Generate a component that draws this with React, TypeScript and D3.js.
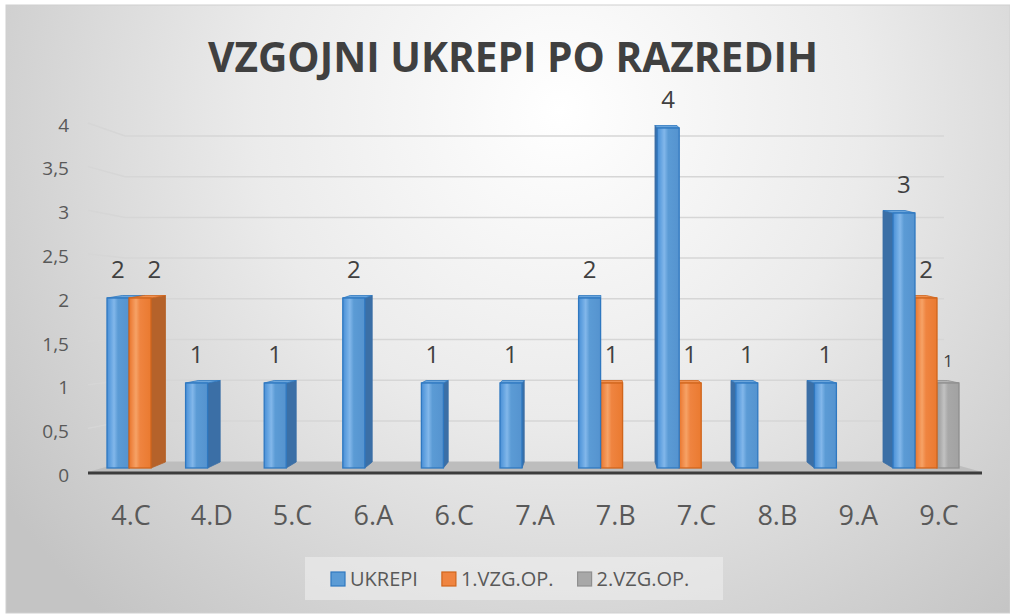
import React, { useEffect, useRef } from "react";
import * as d3 from "d3";

const categories = ["4.C", "4.D", "5.C", "6.A", "6.C", "7.A", "7.B", "7.C", "8.B", "9.A", "9.C"];
const seriesNames = ["UKREPI", "1.VZG.OP.", "2.VZG.OP."];
const ukrepi = [2, 1, 1, 2, 1, 1, 2, 4, 1, 1, 3];
const vzg1 = [2, null, null, null, null, null, 1, 1, null, null, 2];
const vzg2 = [null, null, null, null, null, null, null, null, null, null, 1];
const yTicks = [0, 0.5, 1, 1.5, 2, 2.5, 3, 3.5, 4];
const title = "VZGOJNI UKREPI PO RAZREDIH";

const palette = [
  { id: "blue", stops: ["#4a8fd6", "#62a2e0", "#82b7ea", "#5b9bd5", "#5593cf"], stroke: "#2f78c0", side: "#3b6fa6", top: "#6aa5dc" },
  { id: "orange", stops: ["#e8742a", "#f08a48", "#f6a266", "#ef8440", "#ea7a30"], stroke: "#d0651c", side: "#b5622a", top: "#f09050" },
  { id: "gray", stops: ["#9c9c9c", "#ababab", "#c2c2c2", "#a8a8a8", "#a2a2a2"], stroke: "#8f8f8f", side: "#878787", top: "#b3b3b3" },
];

const FONT = "'Open Sans', sans-serif";

export default function App() {
  const svgRef = useRef<SVGSVGElement>(null);

  useEffect(() => {
    const svg = d3.select(svgRef.current);
    svg.selectAll("*").remove();

    const W = 1010;
    const H = 615;
    svg.attr("width", W).attr("height", H);

    const defs = svg.append("defs");
    const bg = defs
      .append("radialGradient")
      .attr("id", "bg")
      .attr("gradientUnits", "userSpaceOnUse")
      .attr("cx", 560)
      .attr("cy", 110)
      .attr("r", 680);
    bg.append("stop").attr("offset", 0).attr("stop-color", "#ffffff");
    bg.append("stop").attr("offset", 0.45).attr("stop-color", "#ebebeb");
    bg.append("stop").attr("offset", 1).attr("stop-color", "#c4c4c4");

    palette.forEach((p) => {
      const g = defs
        .append("linearGradient")
        .attr("id", `front-${p.id}`)
        .attr("x1", 0)
        .attr("x2", 1)
        .attr("y1", 0)
        .attr("y2", 0);
      [0, 0.15, 0.32, 0.5, 1].forEach((o, i) =>
        g.append("stop").attr("offset", o).attr("stop-color", p.stops[i])
      );
    });

    svg.append("rect").attr("width", W).attr("height", H).attr("fill", "#ffffff");
    svg
      .append("rect")
      .attr("x", 6)
      .attr("y", 5)
      .attr("width", W - 6)
      .attr("height", 608)
      .attr("fill", "url(#bg)")
      .attr("stroke", "#d0d0d0");

    // scales
    const xBar = d3
      .scaleBand()
      .domain(categories)
      .range([100.7, 965.3])
      .paddingInner(0.16)
      .paddingOuter(0.08);
    const xSub = d3.scaleBand().domain(seriesNames).range([0, xBar.bandwidth()]);
    const xLabel = d3.scaleBand().domain(categories).range([90.6, 979.4]);

    const yFront = d3.scaleLinear().domain([0, 4]).range([468, 128]);
    const yBack = d3.scaleLinear().domain([0, 4]).range([461.6, 136]);
    const yLeft = d3.scaleLinear().domain([0, 4]).range([472, 123]);
    const yLabel = d3.scaleLinear().domain([0, 4]).range([475.5, 125]);

    const wallLeft = 88;
    const backLeft = 125;
    const backRight = 944;
    const floorRight = 982;

    // title
    svg
      .append("text")
      .attr("x", 513)
      .attr("y", 72)
      .attr("text-anchor", "middle")
      .attr("font-family", FONT)
      .attr("font-weight", 700)
      .attr("font-size", 42)
      .attr("fill", "#404040")
      .attr("textLength", 610)
      .attr("lengthAdjust", "spacingAndGlyphs")
      .text(title);

    // gridlines: back wall + left wall
    const grid = svg.append("g").attr("stroke", "#d6d6d6").attr("stroke-width", 1.5).attr("fill", "none");
    yTicks
      .filter((t) => t > 0)
      .forEach((t) => {
        grid
          .append("path")
          .attr("d", `M${wallLeft},${yLeft(t)}L${backLeft},${yBack(t)}L${backRight},${yBack(t)}`);
      });

    // floor
    svg
      .append("path")
      .attr(
        "d",
        `M${backLeft},${yBack(0)}L${backRight},${yBack(0)}L${floorRight},${yLeft(0)}L${wallLeft},${yLeft(0)}Z`
      )
      .attr("fill", "#bdbdbd");
    svg
      .append("line")
      .attr("x1", wallLeft)
      .attr("x2", floorRight)
      .attr("y1", yLeft(0) + 1)
      .attr("y2", yLeft(0) + 1)
      .attr("stroke", "#3c3c3c")
      .attr("stroke-width", 3);

    // y axis labels
    const yAxis = svg
      .append("g")
      .attr("transform", "translate(69,0)")
      .call(
        d3
          .axisLeft(yLabel)
          .tickValues(yTicks)
          .tickSize(0)
          .tickPadding(0)
          .tickFormat((d) => String(d).replace(".", ","))
      );
    yAxis.select(".domain").remove();
    yAxis
      .selectAll("text")
      .attr("font-family", FONT)
      .attr("font-size", 19)
      .attr("fill", "#595959");

    // x axis labels
    const xAxis = svg
      .append("g")
      .attr("transform", "translate(0,525)")
      .call(d3.axisBottom(xLabel).tickSize(0).tickPadding(0));
    xAxis.select(".domain").remove();
    xAxis
      .selectAll("text")
      .attr("y", 0)
      .attr("dy", null)
      .attr("font-family", FONT)
      .attr("font-size", 27)
      .attr("fill", "#595959");

    // bars
    const seriesValues = [ukrepi, vzg1, vzg2];
    const vp = 590;
    const k = 0.033;
    const dyTop = -2.5;
    const dyBase = -6;
    const barsG = svg.append("g");
    const labelsG = svg.append("g");

    categories.forEach((cat, ci) => {
      const gx = xBar(cat)!;
      const groupCenter = gx + xBar.bandwidth() / 2;
      const rightSide = groupCenter < vp;
      const order = rightSide ? [0, 1, 2] : [2, 1, 0];
      order.forEach((si) => {
        const v = seriesValues[si][ci];
        if (v == null) return;
        const p = palette[si];
        const x = gx + xSub(seriesNames[si])!;
        const w = xSub.bandwidth();
        const yT = yFront(v);
        const yB = yFront(0);
        const edge = rightSide ? x + w : x;
        const dx = k * (vp - edge);
        const sx = edge + dx;
        barsG
          .append("path")
          .attr("d", `M${edge},${yT}L${sx},${yT + dyTop}L${sx},${yB + dyBase}L${edge},${yB}Z`)
          .attr("fill", p.side)
          .attr("stroke", p.side)
          .attr("stroke-width", 0.8);
        barsG
          .append("path")
          .attr("d", `M${x},${yT}L${x + w},${yT}L${x + w + dx},${yT + dyTop}L${x + dx},${yT + dyTop}Z`)
          .attr("fill", p.top)
          .attr("stroke", p.stroke)
          .attr("stroke-width", 0.8);
        barsG
          .append("rect")
          .attr("x", x)
          .attr("y", yT)
          .attr("width", w)
          .attr("height", yB - yT)
          .attr("fill", `url(#front-${p.id})`)
          .attr("stroke", p.stroke)
          .attr("stroke-width", 1.3);

        const small = si === 2;
        labelsG
          .append("text")
          .attr("x", x + w / 2 + (si === 1 && rightSide ? dx : 0))
          .attr("y", yT - (small ? 16 : 20))
          .attr("text-anchor", "middle")
          .attr("font-family", FONT)
          .attr("font-size", small ? 17 : 24)
          .attr("fill", "#404040")
          .text(String(v));
      });
    });

    // legend
    const legend = svg.append("g");
    legend
      .append("rect")
      .attr("x", 305)
      .attr("y", 557)
      .attr("width", 418)
      .attr("height", 43)
      .attr("fill", "#f0f0f0")
      .attr("opacity", 0.55);
    let lx = 331;
    seriesNames.forEach((name, i) => {
      const p = palette[i];
      legend
        .append("rect")
        .attr("x", lx)
        .attr("y", 572)
        .attr("width", 14)
        .attr("height", 14)
        .attr("fill", p.stops[3])
        .attr("stroke", p.stroke)
        .attr("stroke-width", 1.2);
      const t = legend
        .append("text")
        .attr("x", lx + 19)
        .attr("y", 586)
        .attr("font-family", FONT)
        .attr("font-size", 20)
        .attr("fill", "#595959")
        .text(name);
      const tw = (t.node() as SVGTextElement).getComputedTextLength();
      lx += 19 + tw + 24;
    });
  }, []);

  return (
    <div style={{ position: "absolute", left: 0, top: 0 }}>
      <svg ref={svgRef}></svg>
    </div>
  );
}
